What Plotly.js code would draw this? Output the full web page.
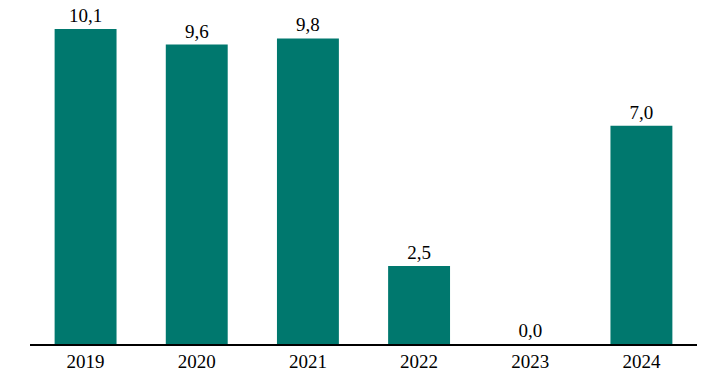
<!DOCTYPE html>
<html>
<head>
<meta charset="utf-8">
<script src="https://cdn.plot.ly/plotly-3.0.1.min.js"></script>
<style>html,body{margin:0;padding:0;background:#fff;}#chart{width:720px;height:381px;}</style>
</head>
<body>
<div id="chart"></div>
<script>
const years = ["2019", "2020", "2021", "2022", "2023", "2024"];
const values = [10.1, 9.6, 9.8, 2.5, 0.0, 7.0];

const font = "Liberation Serif, DejaVu Serif, serif";
Plotly.newPlot("chart", [{
  type: "bar",
  x: years,
  y: values,
  marker: {color: "#00786E"},
  texttemplate: "%{y:.1f}",
  textposition: "outside",
  textfont: {family: font, size: 19, color: "#000"},
  cliponaxis: false,
  hoverinfo: "none"
}], {
  width: 720, height: 381,
  margin: {l: 30, r: 23, t: 10, b: 37},
  separators: ",.",
  bargap: 0.443,
  showlegend: false,
  paper_bgcolor: "#fff",
  plot_bgcolor: "#fff",
  xaxis: {
    type: "category",
    showline: true, linecolor: "#000", linewidth: 1.5,
    ticks: "", showgrid: false, zeroline: false,
    tickfont: {family: font, size: 19, color: "#000"}
  },
  yaxis: {
    range: [0, 10.71], visible: false, showgrid: false, zeroline: false
  }
}, {displayModeBar: false, staticPlot: true});
</script>
</body>
</html>
